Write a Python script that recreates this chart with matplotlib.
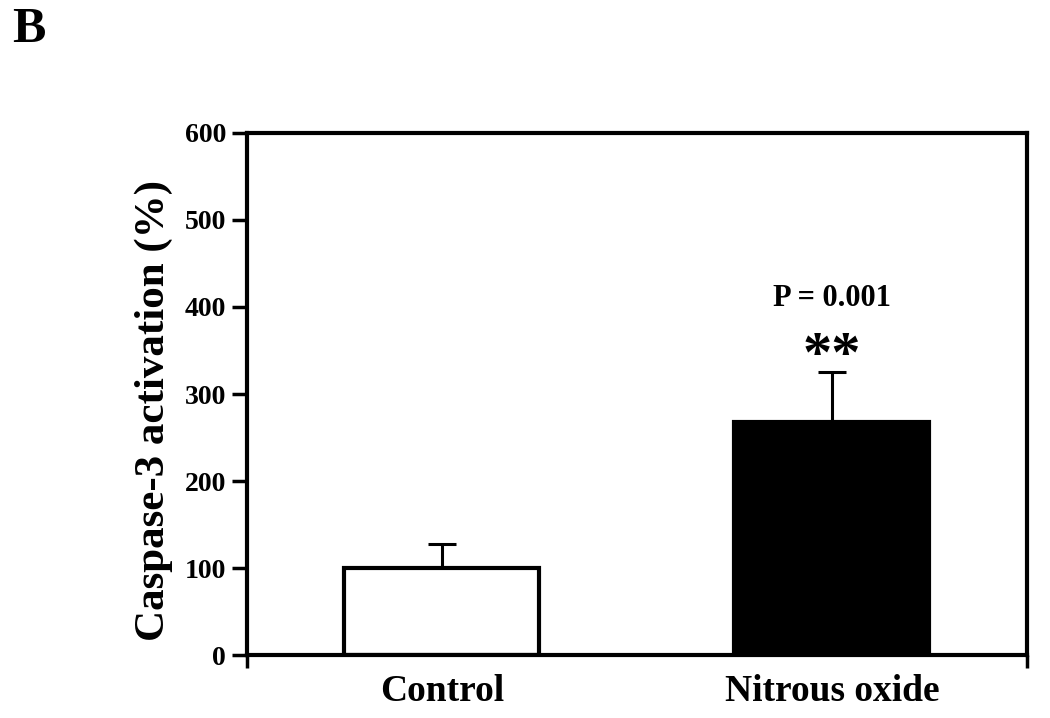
import numpy as np
import matplotlib
matplotlib.use("Agg")
from matplotlib import pyplot as plt

# dados
grupos = ["Control", "Nitrous oxide"]
media = [100, 268]
erro = [28, 57]
cores = ["white", "black"]
yticks = [0, 100, 200, 300, 400, 500, 600]

plt.rcParams['font.family'] = ['Liberation Serif', 'DejaVu Serif']
plt.rcParams['font.weight'] = 'bold'

fig = plt.figure(figsize=(10.5, 7.18), dpi=100)
ax = fig.add_axes([0.2352, 0.0877, 0.978 - 0.2352, 0.8148 - 0.0877])

x = np.arange(len(grupos))
ax.bar(x, media, width=0.5, color=cores, edgecolor="black", linewidth=3, zorder=2)
ax.errorbar(x, media, yerr=[np.zeros(len(erro)), erro], fmt="none", ecolor="black",
            elinewidth=2.2, capsize=10, capthick=2.2, zorder=1)

ax.set_xlim(-0.5, 1.5)
ax.set_ylim(0, 600)
ax.set_yticks(yticks)
ax.set_yticklabels([str(v) for v in yticks], fontsize=20, fontweight="bold")
ax.set_xticks(x)
ax.set_xticklabels(grupos, fontsize=27, fontweight="bold")
ax.tick_params(axis="x", length=0, pad=14)
ax.set_xticks([-0.5, 1.5], minor=True)
ax.tick_params(axis="x", which="minor", length=9, width=2.5, direction="out")
ax.tick_params(axis="y", length=11, width=2.5, direction="out", pad=4)

for s in ax.spines.values():
    s.set_linewidth(3)
    s.set_zorder(3)

ax.set_ylabel("Caspase-3 activation (%)", fontsize=31, fontweight="bold")
ax.yaxis.set_label_coords(-0.095, 0.469)

# anotações
ax.text(1, 410, "P = 0.001", ha="center", va="center", fontsize=22, fontweight="bold")
ax.text(1, 342, "**", ha="center", va="center", fontsize=42, fontweight="bold")

fig.text(0.012, 0.99, "B", ha="left", va="top", fontsize=36, fontweight="bold")

fig.savefig("out.png", dpi=100)
